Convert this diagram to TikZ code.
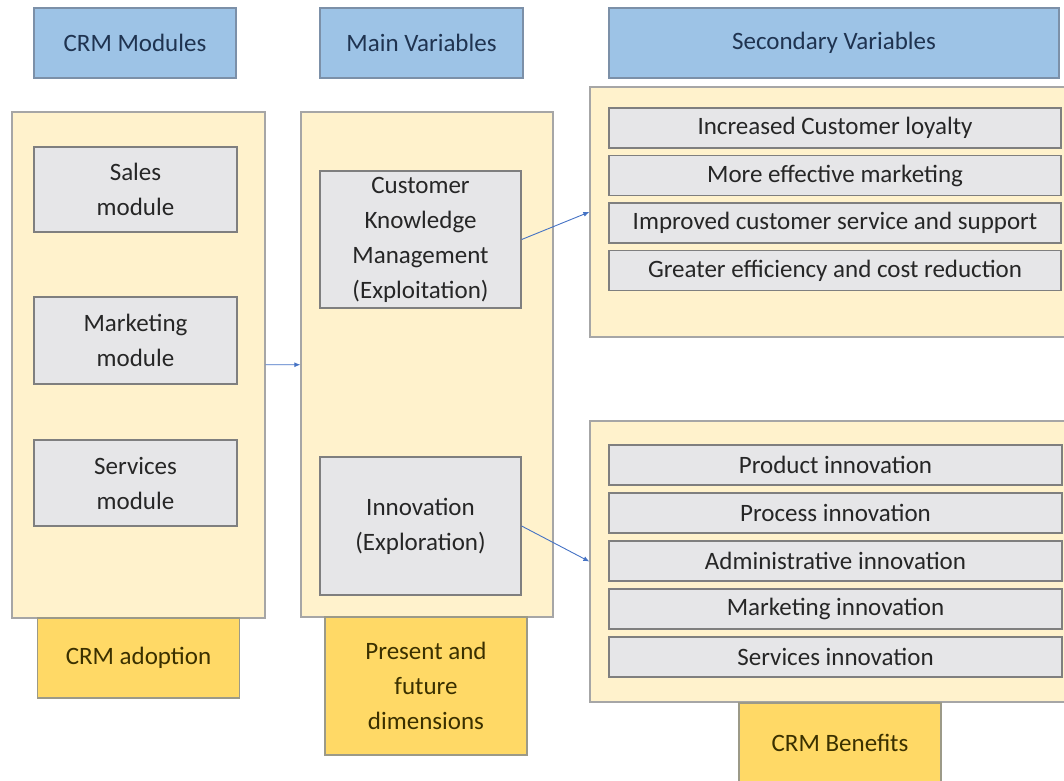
\documentclass[tikz,border=0pt]{standalone}
\usepackage{fontspec}
\setmainfont{Carlito}
\usetikzlibrary{positioning,arrows.meta}
\definecolor{hdrfill}{HTML}{9DC3E6}
\definecolor{hdrline}{HTML}{7C90A8}
\definecolor{hdrtext}{HTML}{1F3350}
\definecolor{panelfill}{HTML}{FFF2CC}
\definecolor{panelline}{HTML}{A6A6A6}
\definecolor{itemfill}{HTML}{E6E6E8}
\definecolor{itemline}{HTML}{7F7F7F}
\definecolor{itemtext}{HTML}{262626}
\definecolor{tagfill}{HTML}{FFD966}
\definecolor{tagline}{HTML}{9C9A88}
\definecolor{tagtext}{HTML}{3A3000}
\definecolor{linkblue}{HTML}{4472C4}

\begin{document}
\begin{tikzpicture}[x=1pt, y=-1pt, node distance=47.5pt, on grid,
    font=\fontsize{25pt}{35pt}\selectfont,
    header/.style={draw=hdrline, fill=hdrfill, text=hdrtext, line width=1.3pt,
      minimum height=70pt, align=center},
    panel/.style={draw=panelline, fill=panelfill, line width=1.3pt},
    item/.style={draw=itemline, fill=itemfill, text=itemtext, line width=1.3pt,
      align=center, inner sep=0pt},
    benefit/.style={item, minimum width=452pt, minimum height=40pt},
    tag/.style={draw=tagline, fill=tagfill, text=tagtext, line width=1.3pt,
      align=center, inner sep=0pt, minimum width=202pt},
    link/.style={draw=linkblue, line width=0.9pt, -{Latex[length=6pt,width=5pt]}}]
    \useasboundingbox (0,0) rectangle (1064,780);%
    \node[header, minimum width=202pt] (modhead) at (135,43) {CRM Modules};%
    \node[header, minimum width=203pt] (varhead) at (421.5,43) {Main Variables};%
    \node[header, minimum width=450pt] (sechead) at (834,43) {Secondary Variables};%
    \node[panel, minimum width=253pt, minimum height=506pt] (modpanel) at (138.5,365) {};%
    \node[panel, minimum width=252pt, minimum height=505pt] (varpanel) at (427,364.5) {};%
    \node[panel, minimum width=485pt, minimum height=250pt] (gainpanel) at (832.5,212) {};%
    \node[panel, minimum width=485pt, minimum height=281pt] (innopanel) at (832.5,561.5) {};%
    \node[item, minimum width=203pt, minimum height=85pt] (sales) at (135.5,189.5) {Sales\\module};%
    \node[item, minimum width=203pt, minimum height=87pt] (mkt) at (135.5,340.5) {Marketing\\module};%
    \node[item, minimum width=203pt, minimum height=86pt] (serv) at (135.5,483) {Services\\module};%
    \node[item, minimum width=201pt, minimum height=137pt] (ckm) at (420.5,239.5)
    {Customer\\Knowledge\\Management\\(Exploitation)};%
    \node[item, minimum width=201pt, minimum height=138pt] (innov) at (420.5,526)
    {Innovation\\(Exploration)};%
    \node[tag, minimum height=80pt] (adopt) at (138.5,658) {CRM adoption};%
    \node[tag, minimum height=138pt] (dims) at (426,686) {Present and\\future\\dimensions};%
    \node[tag, minimum height=80pt] (bens) at (840,743) {CRM Benefits};%
    \node[benefit] (loyal) at (835,128) {Increased Customer loyalty};%
    \node[benefit] (effmkt) [below=of loyal] {More effective marketing};%
    \node[benefit] (support) [below=of effmkt] {Improved customer service and support};%
    \node[benefit] (cost) [below=of support] {Greater efficiency and cost reduction};%
    \node[benefit, minimum width=453pt] (prod) at (835.5,465) {Product innovation};%
    \node[benefit, minimum width=453pt] (proc) [below=48pt of prod] {Process innovation};%
    \node[benefit, minimum width=453pt] (admin) [below=48pt of proc] {Administrative innovation};%
    \node[benefit, minimum width=453pt] (mktinn) [below=48pt of admin] {Marketing innovation};%
    \node[benefit, minimum width=453pt] (servinn) [below=48pt of mktinn] {Services innovation};%
    \draw[link] (modpanel) -- (varpanel);
    \draw[link] (ckm.east) -- (gainpanel.west);
    \draw[link] (innov.east) -- (innopanel.west);
  \end{tikzpicture}
\end{document}
